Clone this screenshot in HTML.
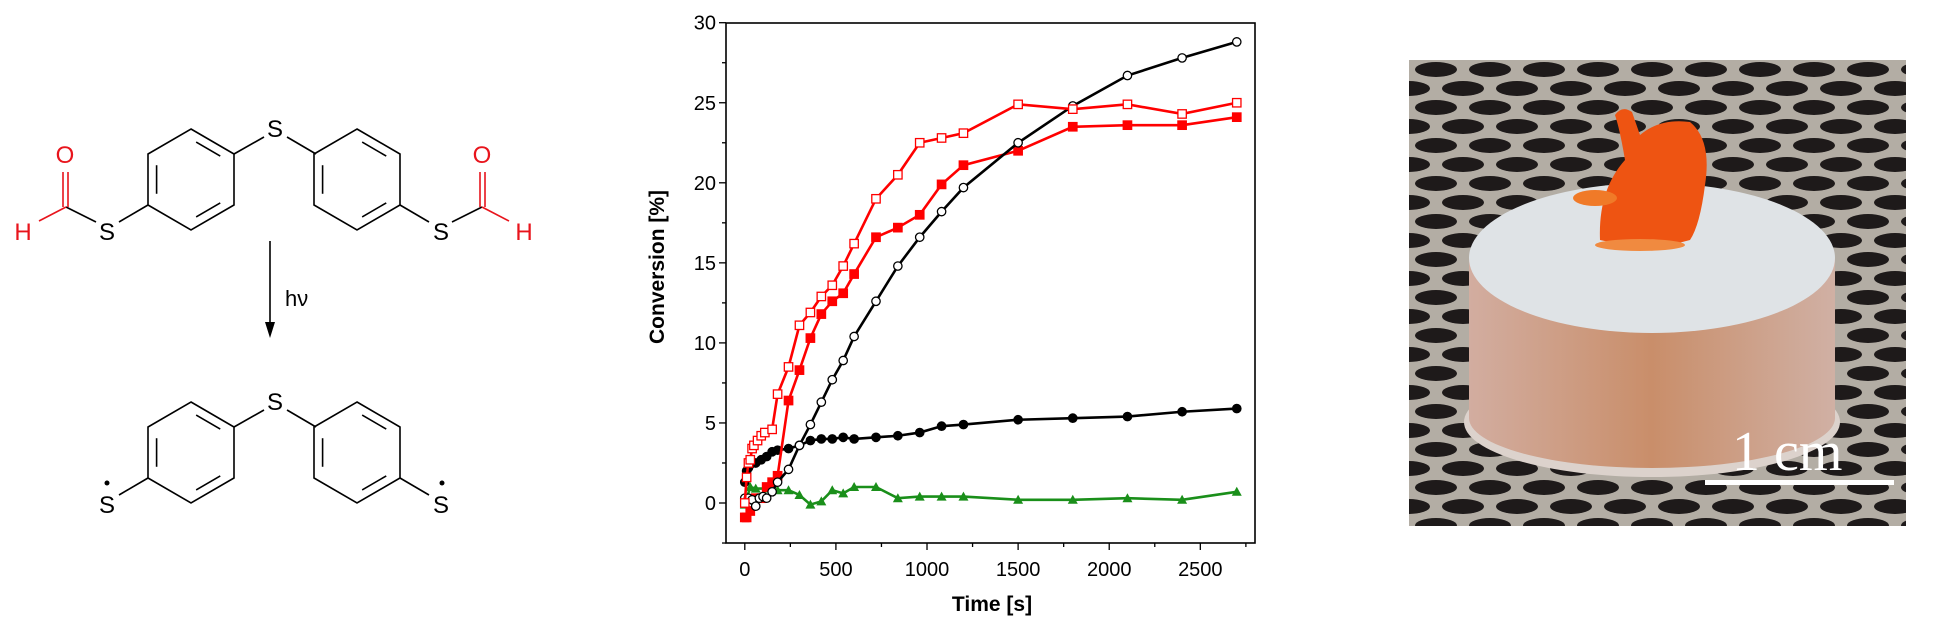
<!DOCTYPE html>
<html><head><meta charset="utf-8">
<style>
html,body{margin:0;padding:0;background:#fff;}
svg{display:block;}
</style></head>
<body>
<svg id="s" width="1933" height="624" viewBox="0 0 1933 624" xmlns="http://www.w3.org/2000/svg" font-family="Liberation Sans, Arial, sans-serif">
<defs>
<pattern id="holes" x="1409" y="60" width="54" height="38" patternUnits="userSpaceOnUse">
<rect width="54" height="38" fill="#b3ada4"/>
<ellipse cx="27" cy="9.5" rx="21" ry="7.5" fill="#1e1a1a"/>
<ellipse cx="0" cy="28.5" rx="21" ry="7.5" fill="#1e1a1a"/>
<ellipse cx="54" cy="28.5" rx="21" ry="7.5" fill="#1e1a1a"/>
</pattern>
<linearGradient id="side" x1="0" x2="1" y1="0" y2="0">
<stop offset="0" stop-color="#d2ada0"/><stop offset="0.5" stop-color="#c98e6a"/><stop offset="1" stop-color="#d0b0a4"/>
</linearGradient>
</defs>

<g stroke="#000" stroke-width="1.6" fill="none" id="chem"></g>
<g font-size="24" id="chemtext"></g>
<g id="chart"></g>

<rect x="1409" y="60" width="497" height="466" fill="url(#holes)"/>
<ellipse cx="1652" cy="422" rx="188" ry="55" fill="#dcd2cc"/>
<rect x="1469" y="258" width="366" height="160" fill="url(#side)"/>
<ellipse cx="1652" cy="418" rx="183" ry="50" fill="url(#side)"/>
<ellipse cx="1652" cy="258" rx="183" ry="75" fill="#dfe3e6"/>
<path d="M1600 240 Q1598 190 1625 160 Q1620 130 1615 115 Q1622 105 1632 112 L1640 135 Q1660 118 1690 122 Q1712 140 1705 185 Q1700 225 1690 240 Q1650 252 1600 240Z" fill="#ee5412"/>
<ellipse cx="1595" cy="198" rx="22" ry="8" fill="#f07a28"/>
<ellipse cx="1640" cy="245" rx="45" ry="6" fill="#f08a40"/>
<rect x="1705" y="480" width="189" height="5" fill="#fff"/>
<text x="1732" y="470" font-family="Liberation Serif, serif" font-size="56" fill="#fff">1 cm</text>
</svg>
<script>
const NS="http://www.w3.org/2000/svg";
function el(p,t,a,txt){const e=document.createElementNS(NS,t);for(const k in a)e.setAttribute(k,a[k]);if(txt!==undefined)e.textContent=txt;p.appendChild(e);return e;}
const chem=document.getElementById('chem'),ct=document.getElementById('chemtext');
function ring(cx,cy,dy){
 const v=[[cx,129],[cx+43,154],[cx+43,205],[cx,230],[cx-43,205],[cx-43,154]].map(p=>[p[0],p[1]+dy]);
 el(chem,'polygon',{points:v.map(p=>p.join(',')).join(' ')});
 const c=[cx,179.5+dy];
 [[0,1],[2,3],[4,5]].forEach(([a,b])=>{
  const s=(p)=>[p[0]+(c[0]-p[0])*0.2,p[1]+(c[1]-p[1])*0.2];
  const A=v[a],B=v[b];
  const A2=[A[0]+(B[0]-A[0])*0.15,A[1]+(B[1]-A[1])*0.15],B2=[A[0]+(B[0]-A[0])*0.85,A[1]+(B[1]-A[1])*0.85];
  const a1=s(A2),b1=s(B2);
  el(chem,'line',{x1:a1[0],y1:a1[1],x2:b1[0],y2:b1[1]});
 });
}
[0,273].forEach(dy=>{
 ring(191,0,dy);ring(357,0,dy);
 el(chem,'line',{x1:234,y1:154+dy,x2:264,y2:137+dy});
 el(chem,'line',{x1:316,y1:154+dy,x2:287,y2:137+dy});
 el(ct,'text',{x:275,y:137+dy,'text-anchor':'middle'},'S');
 el(chem,'line',{x1:148,y1:205+dy,x2:119,y2:222+dy});
 el(chem,'line',{x1:400,y1:205+dy,x2:429,y2:222+dy});
 el(ct,'text',{x:107,y:240+dy,'text-anchor':'middle'},'S');
 el(ct,'text',{x:441,y:240+dy,'text-anchor':'middle'},'S');
});
el(chem,'line',{x1:96,y1:222,x2:66,y2:207});
el(chem,'line',{x1:452,y1:222,x2:482,y2:207});
const red='#e8141c';
el(chem,'line',{x1:66,y1:207,x2:39,y2:221,stroke:red});
el(chem,'line',{x1:482,y1:207,x2:509,y2:221,stroke:red});
el(chem,'line',{x1:63,y1:207,x2:63,y2:172,stroke:red});
el(chem,'line',{x1:68,y1:207,x2:68,y2:172,stroke:red});
el(chem,'line',{x1:480,y1:207,x2:480,y2:172,stroke:red});
el(chem,'line',{x1:485,y1:207,x2:485,y2:172,stroke:red});
el(ct,'text',{x:65,y:163,'text-anchor':'middle',fill:red},'O');
el(ct,'text',{x:482,y:163,'text-anchor':'middle',fill:red},'O');
el(ct,'text',{x:23,y:240,'text-anchor':'middle',fill:red},'H');
el(ct,'text',{x:524,y:240,'text-anchor':'middle',fill:red},'H');
el(ct,'circle',{cx:107,cy:483,r:2.5});el(ct,'circle',{cx:442,cy:483,r:2.5});
el(chem,'line',{x1:270,y1:241,x2:270,y2:325});
el(ct,'polygon',{points:'265,322 275,322 270,338'});
el(ct,'text',{x:285,y:306,'font-size':'22'},'hν');

const g=document.getElementById('chart');
const X=t=>744.8+0.18221*t, Y=v=>503-16.01*v;
el(g,'rect',{x:726,y:23,width:529,height:520,fill:'none',stroke:'#000','stroke-width':1.6});
for(let v=-2.5;v<=30;v+=2.5){const y=Y(v);const maj=(v%5===0);el(g,'line',{x1:726,x2:maj?719:722,y1:y,y2:y,stroke:'#000','stroke-width':1.3});
 if(maj)el(g,'text',{x:716,y:y+7,'text-anchor':'end','font-size':20},String(v));}
for(let t=0;t<=2750;t+=250){const x=X(t);const maj=(t%500===0);el(g,'line',{x1:x,x2:x,y1:543,y2:maj?550:547,stroke:'#000','stroke-width':1.3});
 if(maj)el(g,'text',{x:x,y:576,'text-anchor':'middle','font-size':20},String(t));}
el(g,'text',{x:992,y:611,'text-anchor':'middle','font-size':21,'font-weight':'bold'},'Time [s]');
el(g,'text',{x:0,y:0,'text-anchor':'middle','font-size':21,'font-weight':'bold',transform:'translate(664,267) rotate(-90)'},'Conversion [%]');
const S={
oc:[[0,.3],[20,.3],[40,.2],[60,-.2],[80,.3],[100,.4],[120,.3],[150,.7],[180,1.3],[240,2.1],[300,3.6],[360,4.9],[420,6.3],[480,7.7],[540,8.9],[600,10.4],[720,12.6],[840,14.8],[960,16.6],[1080,18.2],[1200,19.7],[1500,22.5],[1800,24.8],[2100,26.7],[2400,27.8],[2700,28.8]],
fc:[[0,1.3],[10,2.0],[20,2.2],[30,2.4],[60,2.5],[90,2.7],[120,2.9],[150,3.2],[180,3.3],[240,3.4],[300,3.6],[360,3.9],[420,4.0],[480,4.0],[540,4.1],[600,4.0],[720,4.1],[840,4.2],[960,4.4],[1080,4.8],[1200,4.9],[1500,5.2],[1800,5.3],[2100,5.4],[2400,5.7],[2700,5.9]],
os:[[0,0],[10,1.6],[20,2.5],[30,2.7],[40,3.4],[50,3.6],[70,3.9],[90,4.2],[110,4.4],[150,4.6],[180,6.8],[240,8.5],[300,11.1],[360,11.9],[420,12.9],[480,13.6],[540,14.8],[600,16.2],[720,19.0],[840,20.5],[960,22.5],[1080,22.8],[1200,23.1],[1500,24.9],[1800,24.6],[2100,24.9],[2400,24.3],[2700,25.0]],
fs:[[0,-.9],[10,-.9],[30,-.5],[60,.3],[90,.3],[120,1.0],[150,1.3],[180,1.7],[240,6.4],[300,8.3],[360,10.3],[420,11.8],[480,12.6],[540,13.1],[600,14.3],[720,16.6],[840,17.2],[960,18.0],[1080,19.9],[1200,21.1],[1500,22.0],[1800,23.5],[2100,23.6],[2400,23.6],[2700,24.1]],
tr:[[0,-.1],[30,1.0],[60,.9],[120,.9],[180,.8],[240,.8],[300,.5],[360,-.1],[420,.1],[480,.8],[540,.6],[600,1.0],[720,1.0],[840,.3],[960,.4],[1080,.4],[1200,.4],[1500,.2],[1800,.2],[2100,.3],[2400,.2],[2700,.7]]};
const green='#1a8f1a',R='#ff0000';
function series(d,col,mk,fill){
 el(g,'polyline',{points:d.map(p=>X(p[0])+','+Y(p[1])).join(' '),fill:'none',stroke:col,'stroke-width':2.6});
 d.forEach(p=>{const x=X(p[0]),y=Y(p[1]);
  if(mk==='c')el(g,'circle',{cx:x,cy:y,r:4.2,fill:fill,stroke:col,'stroke-width':1.3});
  else if(mk==='s')el(g,'rect',{x:x-4.2,y:y-4.2,width:8.4,height:8.4,fill:fill,stroke:col,'stroke-width':1.3});
  else el(g,'polygon',{points:`${x-5},${y+4} ${x+5},${y+4} ${x},${y-5}`,fill:col});
 });
}
series(S.tr,green,'t');
series(S.fc,'#000','c','#000');
series(S.fs,R,'s',R);
series(S.oc,'#000','c','#fff');
series(S.os,R,'s','#fff');
</script>
</body></html>
